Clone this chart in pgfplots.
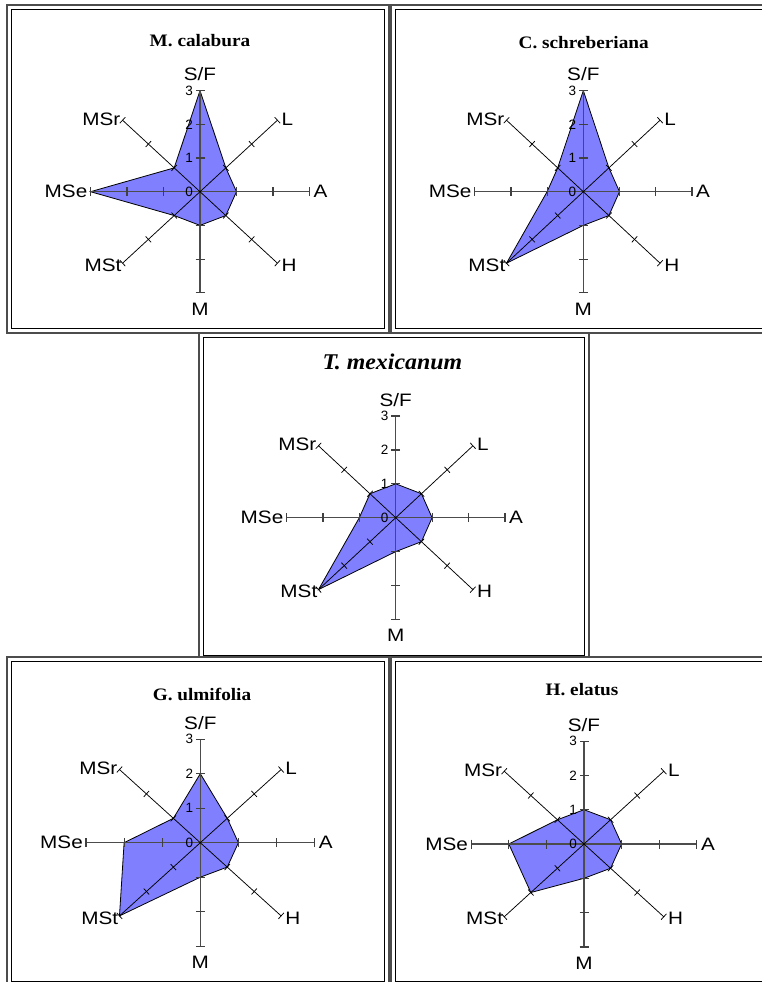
\documentclass[border=0pt]{standalone}
\usepackage{pgfplots}
\pgfplotsset{compat=1.18}
\usepackage{pgfplotstable}
\usepackage{fontspec}
\setmainfont{Liberation Serif}
\newfontfamily\arial{Liberation Sans}
\usetikzlibrary{calc}
\definecolor{radar}{RGB}{128,128,255}

% angle (deg) and value of each spoke; first row repeated to close the polygon
\pgfplotstableread{
a v
90 3
45 1
0 1
-45 1
-90 1
-135 1
180 3
135 1
90 3
}\tabMcal
\pgfplotstableread{
a v
90 3
45 1
0 1
-45 1
-90 1
-135 3
180 1
135 1
90 3
}\tabCsch
\pgfplotstableread{
a v
90 1
45 1
0 1
-45 1
-90 1
-135 3
180 1
135 1
90 1
}\tabTmex
\pgfplotstableread{
a v
90 2
45 1
0 1
-45 1
-90 1
-135 3
180 2
135 1
90 2
}\tabGulm
\pgfplotstableread{
a v
90 1
45 1
0 1
-45 1
-90 1
-135 2
180 2
135 1
90 1
}\tabHela

\newcommand\labfont{\arial\fontsize{18}{18}\selectfont}
\newcommand\numfont{\arial\fontsize{13.5}{13.5}\selectfont}

% spokes, ticks and labels: centre x, centre y (px from top), x unit, y unit
\newcommand\radarframe[4]{%
 \begin{scope}[shift={(#1pt,-#2pt)}, x=#3pt, y=#4pt]
  \draw[line width=1.2pt, black!70] (-3,0) -- (3,0) (0,-3) -- (0,3);
  \draw[line width=0.75pt] (135:3) -- (-45:3) (45:3) -- (-135:3);
  \foreach \a in {0,90,180,270}{\foreach \r in {1,2,3}{%
    \draw[line width=1.2pt, black!75] ($(\a:\r)!4.5pt!90:(0,0)$) -- ($(\a:\r)!4.5pt!-90:(0,0)$);}}
  \foreach \a in {45,135,225,315}{\foreach \r in {1,2,3}{%
    \draw[line width=0.75pt] ($(\a:\r)!4pt!90:(0,0)$) -- ($(\a:\r)!4pt!-90:(0,0)$);}}
  \foreach \r in {0,1,2,3}{\node[anchor=east, inner sep=0pt, font=\numfont] at ([xshift=-7pt]0,\r) {\r};}
  \node[anchor=base, inner sep=0pt, font=\labfont, xscale=1.15] at ([yshift=10pt]0,3) {S/F};
  \node[anchor=west, inner sep=0pt, font=\labfont, xscale=1.15] at ([xshift=4pt,yshift=1pt]45:3) {L};
  \node[anchor=west, inner sep=0pt, font=\labfont, xscale=1.15] at ([xshift=4pt]0:3) {A};
  \node[anchor=west, inner sep=0pt, font=\labfont, xscale=1.15] at ([xshift=4pt,yshift=-2pt]-45:3) {H};
  \node[anchor=north, inner sep=0pt, font=\labfont, xscale=1.15] at ([yshift=-10pt]0,-3) {M};
  \node[anchor=east, inner sep=0pt, font=\labfont, xscale=1.15] at ([xshift=-1pt,yshift=-2pt]-135:3) {MSt};
  \node[anchor=east, inner sep=0pt, font=\labfont, xscale=1.15] at ([xshift=-3pt]180:3) {MSe};
  \node[anchor=east, inner sep=0pt, font=\labfont, xscale=1.15] at ([xshift=-2pt,yshift=1pt]135:3) {MSr};
 \end{scope}}

% double-bordered box: outer x1,y1,x2,y2 (px from top-left)
\newcommand\dbox[4]{%
  \fill[white] (#1pt,-#2pt) rectangle (#3pt,-#4pt);
  \draw[line width=1.2pt, black!70] (#1pt,-#2pt) rectangle (#3pt,-#4pt);
  \draw[line width=1.3pt, black] (#1pt+4.5pt,-#2pt-4.5pt) rectangle (#3pt-4.5pt,-#4pt+4.5pt);}

\pgfplotsset{radarax/.style={anchor=origin, xmin=-3, xmax=3, ymin=-3, ymax=3, hide axis, clip=false}}
\newcommand\radarplot[1]{\addplot[fill=radar, draw=black, line width=0.8pt]
  table[x expr={\thisrow{v}*cos(\thisrow{a})}, y expr={\thisrow{v}*sin(\thisrow{a})}] {#1};}

\begin{document}
\begin{tikzpicture}
\useasboundingbox (0pt,0pt) rectangle (762pt,-982pt);

% ---- panel 1
\dbox{7}{5}{389}{333}
\node[font=\bfseries\fontsize{17.5}{17.5}\selectfont, xscale=1.1] at (200pt,-41pt) {M. calabura};
\begin{axis}[radarax, at={(200pt,-191.7pt)}, x=36.5pt, y=33.7pt]
\radarplot{\tabMcal}
\end{axis}
\radarframe{200}{191.7}{36.5}{33.7}

% ---- panel 2
\dbox{391}{5}{770}{333}
\node[font=\bfseries\fontsize{17.5}{17.5}\selectfont, xscale=1.1] at (583.7pt,-43pt) {C. schreberiana};
\begin{axis}[radarax, at={(583.3pt,-191.7pt)}, x=36.2pt, y=33.7pt]
\radarplot{\tabCsch}
\end{axis}
\radarframe{583.3}{191.7}{36.2}{33.7}

% ---- panel 3
\dbox{199}{333}{589}{660}
\node[font=\bfseries\itshape\fontsize{22.5}{22.5}\selectfont, xscale=1.06] at (392.3pt,-361.7pt) {T. mexicanum};
\begin{axis}[radarax, at={(395.7pt,-517.7pt)}, x=36.4pt, y=33.9pt]
\radarplot{\tabTmex}
\end{axis}
\radarframe{395.7}{517.7}{36.4}{33.9}

% ---- panel 4
\dbox{7}{657}{389}{986}
\node[font=\bfseries\fontsize{17.5}{17.5}\selectfont, xscale=1.1] at (202pt,-694.3pt) {G. ulmifolia};
\begin{axis}[radarax, at={(200.3pt,-842.7pt)}, x=38.1pt, y=34.5pt]
\radarplot{\tabGulm}
\end{axis}
\radarframe{200.3}{842.7}{38.1}{34.5}

% ---- panel 5
\dbox{391}{657}{770}{986}
\node[font=\bfseries\fontsize{17.5}{17.5}\selectfont, xscale=1.1] at (582pt,-690pt) {H. elatus};
\begin{axis}[radarax, at={(584pt,-844pt)}, x=37.6pt, y=34.3pt]
\radarplot{\tabHela}
\end{axis}
\radarframe{584}{844}{37.6}{34.3}
\end{tikzpicture}
\end{document}
